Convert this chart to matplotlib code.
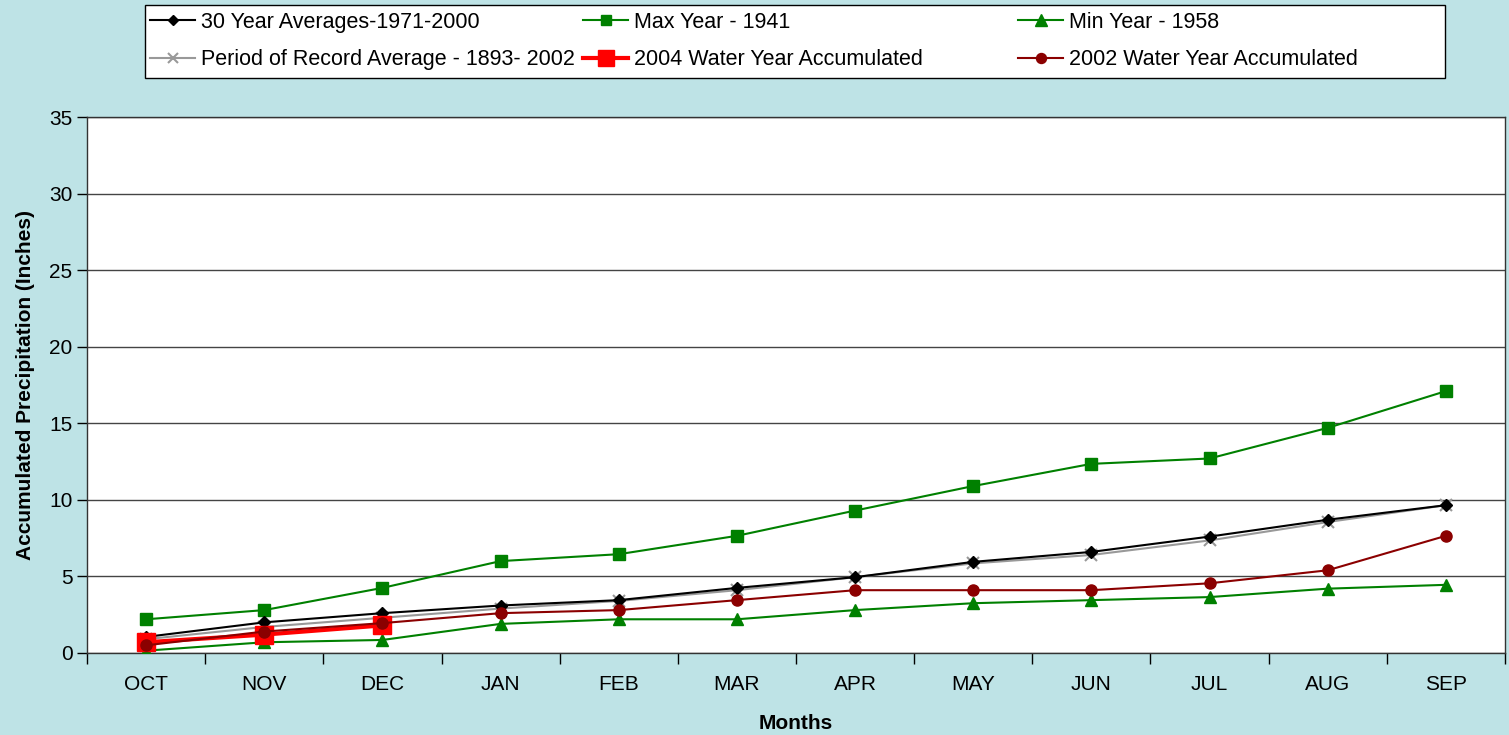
import matplotlib.pyplot as plt
from matplotlib.patches import Rectangle
import numpy as np

plt.rcParams['font.family'] = ['Liberation Sans', 'DejaVu Sans']

months = ['OCT', 'NOV', 'DEC', 'JAN', 'FEB', 'MAR', 'APR', 'MAY', 'JUN', 'JUL', 'AUG', 'SEP']

avg_30yr = [1.05, 2.0, 2.6, 3.1, 3.45, 4.25, 4.95, 5.95, 6.6, 7.6, 8.7, 9.65]
max_1941 = [2.2, 2.8, 4.25, 6.0, 6.45, 7.65, 9.3, 10.9, 12.35, 12.7, 14.7, 17.1]
min_1958 = [0.15, 0.7, 0.85, 1.9, 2.2, 2.2, 2.8, 3.25, 3.45, 3.65, 4.2, 4.45]
por_avg = [0.9, 1.7, 2.3, 2.9, 3.4, 4.1, 4.95, 5.85, 6.4, 7.35, 8.55, 9.65]
wy_2004 = [0.7, 1.2, 1.8]
wy_2002 = [0.5, 1.4, 1.95, 2.6, 2.8, 3.45, 4.1, 4.1, 4.1, 4.55, 5.4, 7.65]

W, H = 1509, 735
bg = '#BEE3E6'
fig = plt.figure(figsize=(W / 100, H / 100), dpi=100, facecolor=bg)
ax = fig.add_axes([0.0577, 0.1116, 0.9396, 0.7292])
ax.set_facecolor('white')

x = np.arange(len(months))
h1, = ax.plot(x, avg_30yr, color='black', marker='D', markersize=6, lw=1.5,
              label='30 Year Averages-1971-2000', zorder=5)
h2, = ax.plot(x, max_1941, color='#008000', marker='s', markersize=8, lw=1.5,
              label='Max Year - 1941', zorder=4)
h3, = ax.plot(x, min_1958, color='#008000', marker='^', markersize=9, lw=1.5,
              label='Min Year - 1958', zorder=4)
h4, = ax.plot(x, por_avg, color='#999999', marker='x', markersize=8, mew=1.5, lw=1.5,
              label='Period of Record Average - 1893- 2002', zorder=4)
h5, = ax.plot(x[:len(wy_2004)], wy_2004, color='#FF0000', marker='s', markersize=13, lw=3,
              label='2004 Water Year Accumulated', zorder=6)
h6, = ax.plot(x, wy_2002, color='#8B0000', marker='o', markersize=8, lw=1.5,
              label='2002 Water Year Accumulated', zorder=7)

ax.set_xlim(-0.5, 11.5)
ax.set_ylim(0, 35)
ax.set_yticks(range(0, 36, 5))
ax.set_xticks(x)
ax.set_xticklabels(months)
ax.set_xticks(np.arange(-0.5, 12, 1), minor=True)
ax.tick_params(axis='x', which='major', length=0, labelsize=15, pad=16)
ax.tick_params(axis='x', which='minor', length=8, width=1, direction='out')
ax.tick_params(axis='y', labelsize=15, length=7, width=1, direction='out')
ax.grid(axis='y', color='#444444', lw=1)
ax.set_axisbelow(True)
for s in ax.spines.values():
    s.set_color('#333333')
    s.set_linewidth(1)

ax.set_xlabel('Months', fontsize=15, fontweight='bold', labelpad=14)
ax.set_ylabel('Accumulated Precipitation (Inches)', fontsize=15, fontweight='bold', labelpad=10)

# legend frame, then three one-column legends at fixed positions
fig.add_artist(Rectangle((145 / W, 1 - 78 / H), 1300 / W, 73 / H, transform=fig.transFigure,
                         facecolor='white', edgecolor='black', lw=1, zorder=1))
cols = [([h1, h4], 150), ([h2, h5], 583), ([h3, h6], 1018)]
for hs, px in cols:
    leg = fig.legend(hs, [h.get_label() for h in hs], loc='upper left',
                     bbox_to_anchor=(px / W, 1 - 12 / H), borderaxespad=0, borderpad=0,
                     fontsize=15.5, frameon=False, handlelength=2.1, handletextpad=0.25,
                     labelspacing=0.75, markerscale=0.9)
    leg.set_zorder(2)

fig.savefig('out.png', dpi=100, facecolor=bg)
